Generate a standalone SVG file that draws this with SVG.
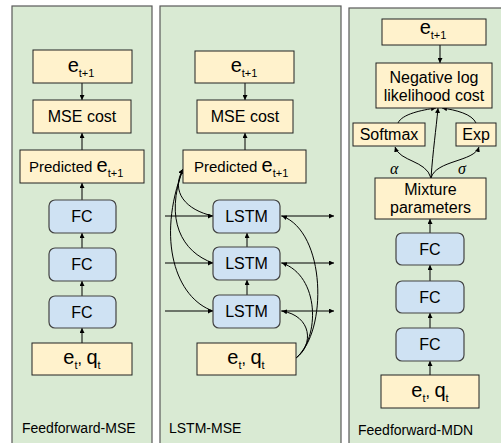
<svg xmlns="http://www.w3.org/2000/svg" width="501" height="443" viewBox="0 0 501 443">
<defs>
<marker id="ah" viewBox="0 0 8 8" refX="8" refY="4" markerWidth="5" markerHeight="5" orient="auto" markerUnits="userSpaceOnUse">
<path d="M0,0 L8,4 L0,8 z" fill="#000"/>
</marker>
<style>
.panel{fill:#d9ead3;stroke:#595959;stroke-width:1.2}
.y{fill:#fff2cc;stroke:#222;stroke-width:1}
.b{fill:#cfe2f3;stroke:#434343;stroke-width:1.2}
text{font-family:"Liberation Sans",Arial,sans-serif;fill:#000}
.t{font-size:16px;text-anchor:middle}
.e{font-size:20px}
.s{font-size:11px}
.lab{font-size:14px}
.gr{font-family:"Liberation Serif","Times New Roman",serif;font-style:italic;font-size:16px}
.c{fill:none;stroke:#000;stroke-width:1;marker-end:url(#ah)}
</style>
</defs>
<g id="panels">
<rect class="panel" x="12" y="6" width="140" height="450"/>
<rect class="panel" x="160" y="6" width="181" height="450"/>
<rect class="panel" x="349" y="8" width="160" height="450"/>
</g>
<g id="connectors">
<!-- panel 1 -->
<path class="c" d="M82,83 V100"/>
<path class="c" d="M82,150 V133"/>
<path class="c" d="M82,200 V183"/>
<path class="c" d="M82,248 V233"/>
<path class="c" d="M82,296 V281"/>
<path class="c" d="M82,343 V328"/>
<!-- panel 2 -->
<path class="c" d="M245,83 V100"/>
<path class="c" d="M245,150 V133"/>
<path class="c" d="M247,247 V233"/>
<path class="c" d="M247,295 V280"/>
<path class="c" d="M165,216 H213"/>
<path class="c" d="M165,263 H213"/>
<path class="c" d="M165,311 H213"/>
<path class="c" d="M281,216 H334"/>
<path class="c" d="M281,263 H334"/>
<path class="c" d="M281,311 H334"/>
<path class="c" d="M213,216 C186,210 170,192 183,169"/>
<path class="c" d="M213,263 C182,252 164,220 183,169"/>
<path class="c" d="M213,311 C176,298 156,240 183,169"/>
<path class="c" d="M296,358 C314,345 312,316 282,311"/>
<path class="c" d="M296,358 C320,338 320,276 282,263"/>
<path class="c" d="M296,358 C328,332 326,232 282,216"/>
<!-- panel 3 -->
<path class="c" d="M440,45 V63"/>
<path class="c" d="M431,178 C433,150 436,130 438,108"/>
<path class="c" d="M398,123 C402,114 422,110 436,108"/>
<path class="c" d="M476,123 C472,114 456,110 442,108"/>
<path class="c" d="M431,178 C426,160 400,162 395,147"/>
<path class="c" d="M431,178 C436,160 474,162 479,147"/>
<path class="c" d="M430,233 V219"/>
<path class="c" d="M430,281 V265"/>
<path class="c" d="M430,328 V313"/>
<path class="c" d="M430,375 V361"/>
</g>
<!-- Panel 1 nodes -->
<g id="ff-target">
<rect class="y" x="33" y="50" width="99" height="33"/>
<text class="t" x="81" y="72"><tspan class="e">e</tspan><tspan class="s" dy="5">t+1</tspan></text>
</g>
<g id="ff-cost">
<rect class="y" x="33" y="100" width="98" height="33"/>
<text class="t" x="82" y="122">MSE cost</text>
</g>
<g id="ff-pred">
<rect class="y" x="20" y="150" width="124" height="33"/>
<text x="29" y="172" font-size="15">Predicted <tspan class="e">e</tspan><tspan class="s" dy="5">t+1</tspan></text>
</g>
<g id="ff-fc1">
<rect class="b" x="49" y="200" width="67" height="33" rx="6"/>
<text class="t" x="82" y="222">FC</text>
</g>
<g id="ff-fc2">
<rect class="b" x="49" y="248" width="67" height="33" rx="6"/>
<text class="t" x="82" y="270">FC</text>
</g>
<g id="ff-fc3">
<rect class="b" x="49" y="296" width="67" height="32" rx="6"/>
<text class="t" x="82" y="318">FC</text>
</g>
<g id="ff-input">
<rect class="y" x="32" y="343" width="100" height="32"/>
<text class="t" x="82" y="364"><tspan class="e">e</tspan><tspan class="s" dy="5">t</tspan><tspan font-size="16" dy="-5">, </tspan><tspan class="e">q</tspan><tspan class="s" dy="5">t</tspan></text>
</g>
<text class="lab" x="22" y="433">Feedforward-MSE</text>
<!-- Panel 2 nodes -->
<g id="lstm-target">
<rect class="y" x="195" y="51" width="99" height="32"/>
<text class="t" x="244" y="72"><tspan class="e">e</tspan><tspan class="s" dy="5">t+1</tspan></text>
</g>
<g id="lstm-cost">
<rect class="y" x="197" y="100" width="96" height="33"/>
<text class="t" x="245" y="122">MSE cost</text>
</g>
<g id="lstm-pred">
<rect class="y" x="183" y="150" width="123" height="33"/>
<text x="194" y="172" font-size="15">Predicted <tspan class="e">e</tspan><tspan class="s" dy="5">t+1</tspan></text>
</g>
<g id="lstm1">
<rect class="b" x="213" y="200" width="67" height="33" rx="6"/>
<text class="t" x="246.5" y="222">LSTM</text>
</g>
<g id="lstm2">
<rect class="b" x="213" y="247" width="67" height="33" rx="6"/>
<text class="t" x="246.5" y="269">LSTM</text>
</g>
<g id="lstm3">
<rect class="b" x="213" y="295" width="67" height="33" rx="6"/>
<text class="t" x="246.5" y="317">LSTM</text>
</g>
<g id="lstm-input">
<rect class="y" x="197" y="343" width="99" height="32"/>
<text class="t" x="246" y="364"><tspan class="e">e</tspan><tspan class="s" dy="5">t</tspan><tspan font-size="16" dy="-5">, </tspan><tspan class="e">q</tspan><tspan class="s" dy="5">t</tspan></text>
</g>
<text class="lab" x="169" y="433">LSTM-MSE</text>
<!-- Panel 3 nodes -->
<g id="mdn-target">
<rect class="y" x="382" y="19" width="104" height="26"/>
<text class="t" x="433" y="34"><tspan class="e">e</tspan><tspan class="s" dy="5">t+1</tspan></text>
</g>
<g id="mdn-cost">
<rect class="y" x="376" y="63" width="116" height="45"/>
<text class="t" x="434" y="83">Negative log</text>
<text class="t" x="434" y="101">likelihood cost</text>
</g>
<g id="mdn-softmax">
<rect class="y" x="353" y="123" width="72" height="23"/>
<text class="t" x="389" y="140">Softmax</text>
</g>
<g id="mdn-exp">
<rect class="y" x="456" y="123" width="40" height="23"/>
<text class="t" x="476" y="140">Exp</text>
</g>
<text class="gr" x="390" y="174">α</text>
<text class="gr" x="458" y="174">σ</text>
<g id="mdn-mixture">
<rect class="y" x="375" y="178" width="111" height="41"/>
<text class="t" x="430.5" y="195">Mixture</text>
<text class="t" x="430.5" y="213">parameters</text>
</g>
<g id="mdn-fc1">
<rect class="b" x="396" y="233" width="68" height="32" rx="6"/>
<text class="t" x="430" y="255">FC</text>
</g>
<g id="mdn-fc2">
<rect class="b" x="396" y="281" width="68" height="32" rx="6"/>
<text class="t" x="430" y="303">FC</text>
</g>
<g id="mdn-fc3">
<rect class="b" x="396" y="328" width="68" height="33" rx="6"/>
<text class="t" x="430" y="350">FC</text>
</g>
<g id="mdn-input">
<rect class="y" x="381" y="375" width="98" height="33"/>
<text class="t" x="430" y="397"><tspan class="e">e</tspan><tspan class="s" dy="5">t</tspan><tspan font-size="16" dy="-5">, </tspan><tspan class="e">q</tspan><tspan class="s" dy="5">t</tspan></text>
</g>
<text class="lab" x="358" y="435">Feedforward-MDN</text>
</svg>
